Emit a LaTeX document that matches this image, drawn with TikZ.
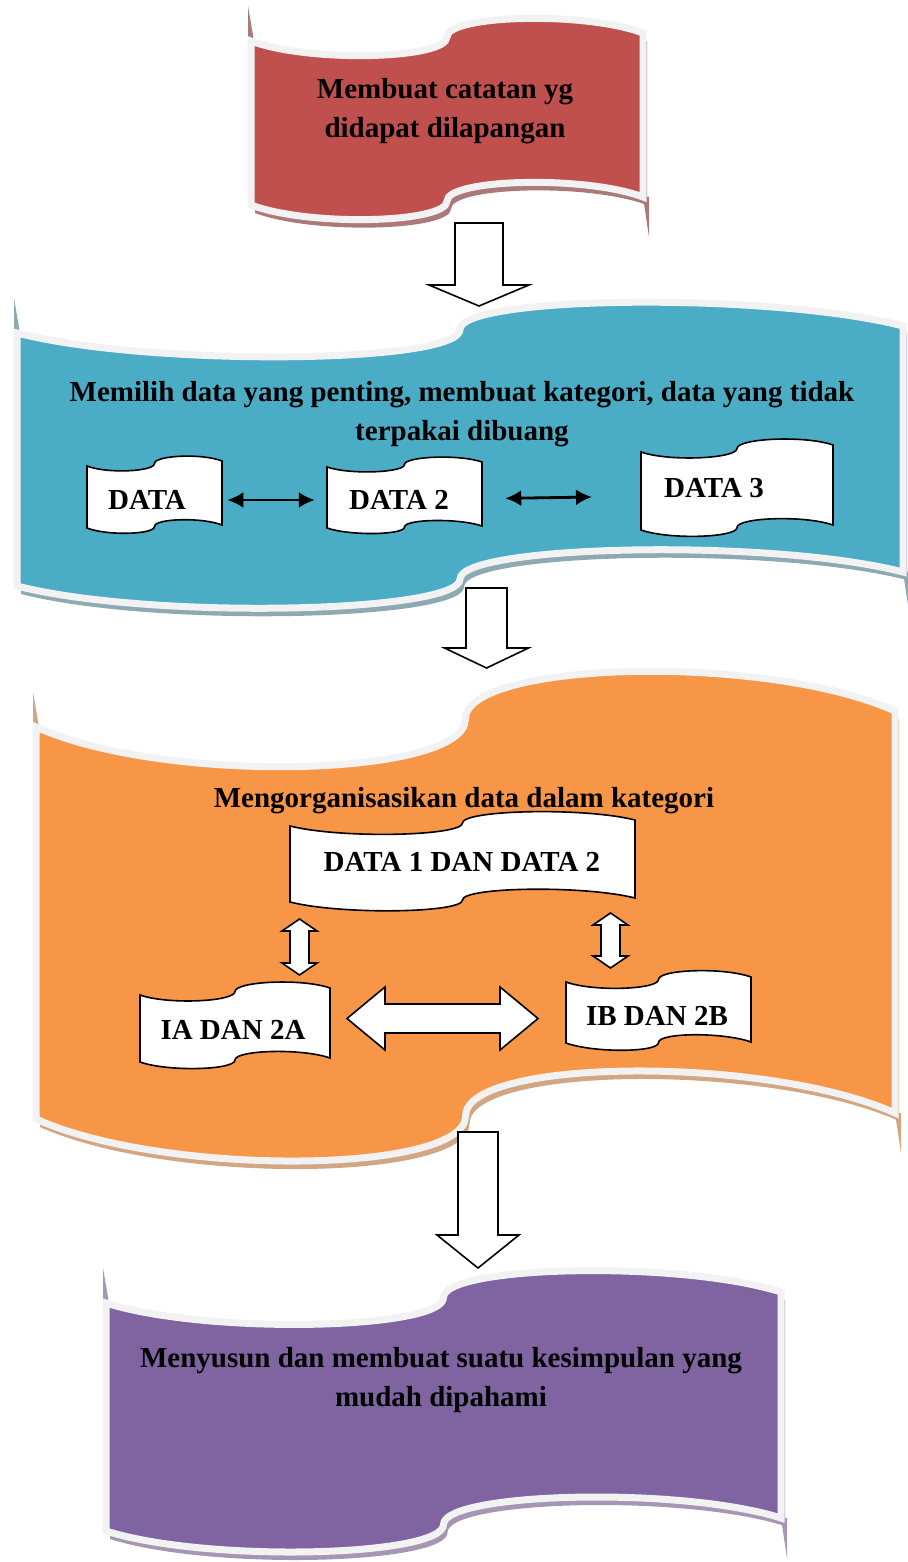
\documentclass[tikz,border=0pt]{standalone}
\usepackage{fontspec}
\setmainfont{Liberation Serif}
\usepackage{tikz}
\usetikzlibrary{calc,arrows.meta}
\definecolor{redfill}{HTML}{C0504D}
\definecolor{redshade}{HTML}{A97A79}
\definecolor{bluefill}{HTML}{4BACC6}
\definecolor{blueshade}{HTML}{8DA9B2}
\definecolor{orangefill}{HTML}{F79646}
\definecolor{orangeshade}{HTML}{D2A583}
\definecolor{purplefill}{HTML}{8064A2}
\definecolor{purpleshade}{HTML}{A597B3}
\definecolor{rim}{HTML}{F2F2F2}

% wavy outline: left, right, top-left y, top-right y, bottom-left y, bottom-right y, bulge
\newcommand{\setwave}[7]{%
  \pgfmathsetmacro\wvM{(#1+#2)/2}%
  \pgfmathsetmacro\wvT{(#3+#4)/2}%
  \pgfmathsetmacro\wvB{(#5+#6)/2}%
  \pgfmathsetmacro\wvP{#1+0.15*(#2-#1)}%
  \pgfmathsetmacro\wvQ{#2-0.15*(#2-#1)}%
  \def\wavepath{(#1,#3) .. controls (\wvP,#3+#7) and (\wvM,\wvT+#7) .. (\wvM,\wvT)
    .. controls (\wvM,\wvT-#7) and (\wvQ,#4-#7) .. (#2,#4) -- (#2,#6)
    .. controls (\wvQ,#6-#7) and (\wvM,\wvB-#7) .. (\wvM,\wvB)
    .. controls (\wvM,\wvB+#7) and (\wvP,#5+#7) .. (#1,#5) -- cycle}%
}
% big banner: outline as above, then fill and shadow colour
\newcommand{\banner}[9]{%
  \setwave{#1}{#2}{#3}{#4}{#5}{#6}{#7}%
  \fill[#9,shift={(4,8)}] \wavepath;
  \fill[#9] (#1-3,#3-35) -- (#1+3,#3) -- (#1-3,#3+6) -- cycle;
  \fill[#9] (#2+6,#6+40) -- (#2+6,#6) -- (#2,#6) -- cycle;
  \filldraw[fill=#8,draw=rim,line width=3.5pt] \wavepath;
}
% small white sheet
\newcommand{\sheet}[7]{%
  \setwave{#1}{#2}{#3}{#4}{#5}{#6}{#7}%
  \filldraw[doc] \wavepath;
}
% hollow block arrows: ends, shaft half width, head half width, head length
\newcommand{\flowarrow}[5]{%
  \draw[bigarrow] ($(#1)+(-#3,0)$) -- ($(#2)+(-#3,-#5)$) -- ($(#2)+(-#4,-#5)$) -- (#2)
    -- ($(#2)+(#4,-#5)$) -- ($(#2)+(#3,-#5)$) -- ($(#1)+(#3,0)$) -- cycle;
}
\newcommand{\vboth}[5]{%
  \draw[bigarrow] (#1) -- ($(#1)+(#4,#5)$) -- ($(#1)+(#3,#5)$) -- ($(#2)+(#3,-#5)$)
    -- ($(#2)+(#4,-#5)$) -- (#2) -- ($(#2)+(-#4,-#5)$) -- ($(#2)+(-#3,-#5)$)
    -- ($(#1)+(-#3,#5)$) -- ($(#1)+(-#4,#5)$) -- cycle;
}
\newcommand{\hboth}[5]{%
  \draw[bigarrow] (#1) -- ($(#1)+(#5,-#4)$) -- ($(#1)+(#5,-#3)$) -- ($(#2)+(-#5,-#3)$)
    -- ($(#2)+(-#5,-#4)$) -- (#2) -- ($(#2)+(-#5,#4)$) -- ($(#2)+(-#5,#3)$)
    -- ($(#1)+(#5,#3)$) -- ($(#1)+(#5,#4)$) -- cycle;
}

\begin{document}
\begin{tikzpicture}[
  x=0.5pt,y=-0.5pt,
  font=\bfseries\fontsize{14.5}{19.5}\selectfont,
  every node/.style={align=center},
  title/.style={inner sep=0pt},
  tag/.style={inner sep=0pt},
  doc/.style={draw=black,line width=0.8pt,fill=white},
  bigarrow/.style={draw=black,line width=0.8pt,fill=white,line join=miter},
  link/.style={{Latex[length=8pt,width=8pt]}-{Latex[length=8pt,width=8pt]},line width=1.4pt},
]
\useasboundingbox (0,0) rectangle (907,1562);

% the four stages
\banner{251}{643}{41}{33}{205}{197}{22}{redfill}{redshade}
\banner{17}{903}{333}{326}{586}{572}{34}{bluefill}{blueshade}
\banner{36}{895}{727}{711}{1119}{1113}{58}{orangefill}{orangeshade}
\banner{106}{781}{1303}{1292}{1531}{1518}{32}{purplefill}{purpleshade}

% arrows between stages
\coordinate (s1) at (479,223);
\coordinate (t1) at (479,306);
\coordinate (s2) at (486.5,588);
\coordinate (t2) at (486.5,668);
\coordinate (s3) at (478,1132);
\coordinate (t3) at (478,1268);
\flowarrow{s1}{t1}{24}{50}{21}
\flowarrow{s2}{t2}{20.5}{42}{20}
\flowarrow{s3}{t3}{20}{41}{33}

\node[title] (note) at (445,111) {Membuat catatan yg\\didapat dilapangan};
\node[title] (pick) at (462,414) {Memilih data yang penting, membuat kategori, data yang tidak\\terpakai dibuang};
\node[title] (group) at (464,801) {Mengorganisasikan data dalam kategori};
\node[title] (sum) at (441,1380) {Menyusun dan membuat suatu kesimpulan yang\\mudah dipahami};

% data sheets
\sheet{87}{222}{466}{461}{528}{525}{8}
\sheet{327}{482}{467}{462}{528}{526}{8}
\sheet{641}{833}{452}{445}{530}{525}{10}
\sheet{290}{635}{826}{820}{902}{898}{13}
\sheet{140}{330}{995}{988}{1062}{1058}{10}
\sheet{566}{751}{982}{977}{1043}{1042}{10}

\node[tag] (d1) at (147,500) {DATA};
\node[tag] (d2) at (399,500) {DATA 2};
\node[tag] (d3) at (714,488) {DATA 3};
\node[tag] (dd) at (462,862) {DATA 1 DAN DATA 2};
\node[tag] (ia) at (233,1030) {IA DAN 2A};
\node[tag] (ib) at (657,1016) {IB DAN 2B};

\coordinate (gap) at (592,497);
\draw[link,shorten <=20.5pt,shorten >=17pt] (d1) -- (d2);
\draw[link,shorten <=28pt] (d2) -- (gap);

% links inside the grouping stage
\coordinate (u1) at (299.5,919);
\coordinate (v1) at (299.5,975);
\coordinate (u2) at (610.5,913);
\coordinate (v2) at (610.5,968);
\coordinate (w1) at (347,1018.5);
\coordinate (w2) at (538,1018.5);
\vboth{u1}{v1}{9.5}{17.5}{12}
\vboth{u2}{v2}{9.5}{17.5}{12}
\hboth{w1}{w2}{14.5}{31.5}{38}
\end{tikzpicture}
\end{document}
